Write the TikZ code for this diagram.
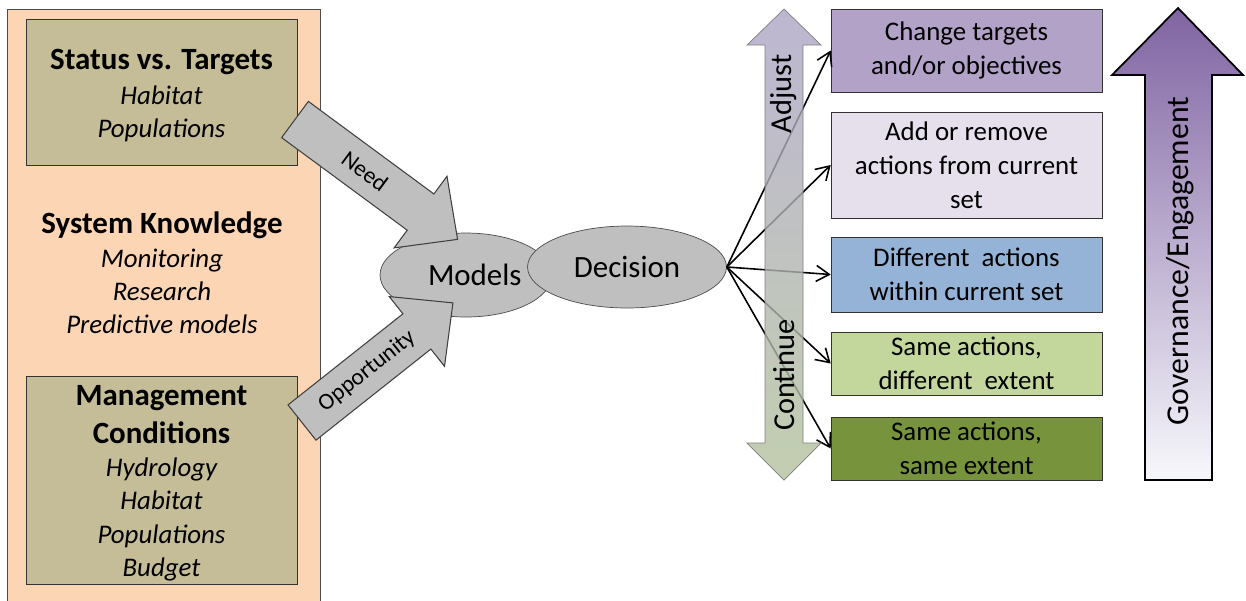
\documentclass[tikz,border=0pt]{standalone}
\usepackage{fontspec}
\setmainfont{Carlito}
\usepackage{tikz}
\usetikzlibrary{arrows.meta,shapes.geometric,positioning}

\definecolor{peach}{HTML}{FCD5B5}
\definecolor{tan}{HTML}{C4BD97}
\definecolor{blobgray}{HTML}{BFBFBF}
\definecolor{chgpurple}{HTML}{B3A2C7}
\definecolor{addlilac}{HTML}{E6E0EC}
\definecolor{diffblue}{HTML}{95B3D7}
\definecolor{lightgreen}{HTML}{C3D69B}
\definecolor{darkgreen}{HTML}{77933C}
\definecolor{govtop}{HTML}{8064A2}
\definecolor{govmid}{HTML}{B9CDE5}
\definecolor{govbot}{HTML}{F7F8FC}
\definecolor{adjtop}{HTML}{ACA4C6}
\definecolor{adjmid}{HTML}{E4EAF3}
\definecolor{adjbot}{HTML}{B3C29C}

\newcommand{\headline}[1]{{\fontsize{17.6}{21}\selectfont\bfseries\upshape #1}}

\tikzset{
  srcbox/.style={draw=black!80,fill=tan,minimum width=5.42cm,inner sep=0pt},
  srctext/.style={align=center,inner sep=0pt,font=\fontsize{15.3}{18.9}\selectfont\itshape},
  blob/.style={ellipse,draw=black!70,fill=blobgray,inner sep=0pt,font=\fontsize{17.6}{21}\selectfont},
  optbox/.style={draw=black!80,minimum width=5.42cm,align=center,inner sep=0pt,font=\fontsize{15.3}{19.3}\selectfont},
  fan/.style={line width=0.9pt,-{Straight Barb[length=2.6mm,width=3.2mm]}},
  bigarrow/.style={draw=black!75,fill=blobgray,line width=0.6pt},
  sidetext/.style={rotate=90,font=\fontsize{17.3}{20}\selectfont},
}

\begin{document}
\begin{tikzpicture}[x=0.02cm,y=-0.02cm]
\useasboundingbox (0,0) rectangle (1246,600);
%linke Spalte
\draw[black!70,fill=peach] (7,9) rectangle (320,615);
\node[srcbox,minimum height=2.92cm] (status) at (161.5,92) {};
\node[srctext] (statustext) at (161.5,95.5) {\headline{Status vs. Targets}\\[1pt] Habitat\\ Populations};
\node[srctext] (sysknow) at (162,273) {\headline{System Knowledge}\\ Monitoring\\ Research\\ Predictive models};
\node[srcbox,minimum height=4.16cm] (mgmt) at (161.5,480) {};
\node[srctext] (mgmttext) at (161.5,483) {\headline{Management}\\[3pt] \headline{Conditions}\\ Hydrology\\ Habitat\\ Populations\\ Budget};
%Mitte
\node[blob,minimum width=3.44cm,minimum height=1.68cm] (models) at (466,275) {\hspace{10pt}Models};
\node[blob,minimum width=3.98cm,minimum height=1.64cm] (decision) at (627,267) {Decision};
\pgfmathsetmacro{\LNeed}{202}
\pgfmathsetmacro{\LOpp}{192.6}
\begin{scope}[shift={(295,119.5)},rotate=-36.4]
  \draw[bigarrow] (0,-22.5) -- (\LNeed-46,-22.5) -- (\LNeed-46,-44.5) -- (\LNeed,0) -- (\LNeed-46,44.5) -- (\LNeed-46,22.5) -- (0,22.5) -- cycle;
  \node[rotate=-36.4,font=\fontsize{13.3}{15}\selectfont] (need) at (0.43*\LNeed,0) {Need};
\end{scope}
\begin{scope}[shift={(302,422.5)},rotate=38.4]
  \draw[bigarrow] (0,-22.5) -- (\LOpp-46,-22.5) -- (\LOpp-46,-44.5) -- (\LOpp,0) -- (\LOpp-46,44.5) -- (\LOpp-46,22.5) -- (0,22.5) -- cycle;
  \node[rotate=38.4,font=\fontsize{13.3}{15}\selectfont] (opport) at (0.43*\LOpp,0) {Opportunity};
\end{scope}
%rechte Kaesten
\node[optbox,fill=chgpurple,minimum height=1.66cm] (change) at (966.5,50.5) {Change targets\\ and/or objectives};
\node[optbox,fill=addlilac,minimum height=2.12cm] (addrm) at (966.5,165) {Add or remove\\ actions from current\\ set};
\node[optbox,fill=diffblue,minimum height=1.5cm] (diff) at (966.5,274.5) {Different~ actions\\ within current set};
\node[optbox,fill=lightgreen,minimum height=1.26cm] (samediff) at (966.5,363.5) {Same actions,\\ different~ extent};
\node[optbox,fill=darkgreen,minimum height=1.26cm] (samesame) at (966.5,448.5) {Same actions,\\ same extent};
\foreach \tgt in {change,addrm,diff,samediff,samesame}
  \draw[fan] (decision.east) -- (\tgt.west);
%Doppelpfeil Adjust/Continue
\shade[draw=black!50,top color=adjtop,middle color=adjmid,bottom color=adjbot,fill opacity=0.8]
  (765,45) -- (747,45) -- (784,9) -- (821,45) -- (803,45) -- (803,443) -- (821,443) -- (784,480) -- (747,443) -- (765,443) -- cycle;
\node[sidetext] (adjust) at (784,94) {Adjust};
\node[sidetext] (continue) at (784,375) {Continue};
%Governance
\shade[draw=black,line width=1pt,top color=govtop,middle color=govmid,bottom color=govbot]
  (1145,480) -- (1145,75) -- (1112,75) -- (1178,8) -- (1243,75) -- (1212,75) -- (1212,480) -- cycle;
\node[rotate=90,font=\fontsize{18.1}{21}\selectfont] (gov) at (1180,261) {Governance/Engagement};
\end{tikzpicture}
\end{document}
